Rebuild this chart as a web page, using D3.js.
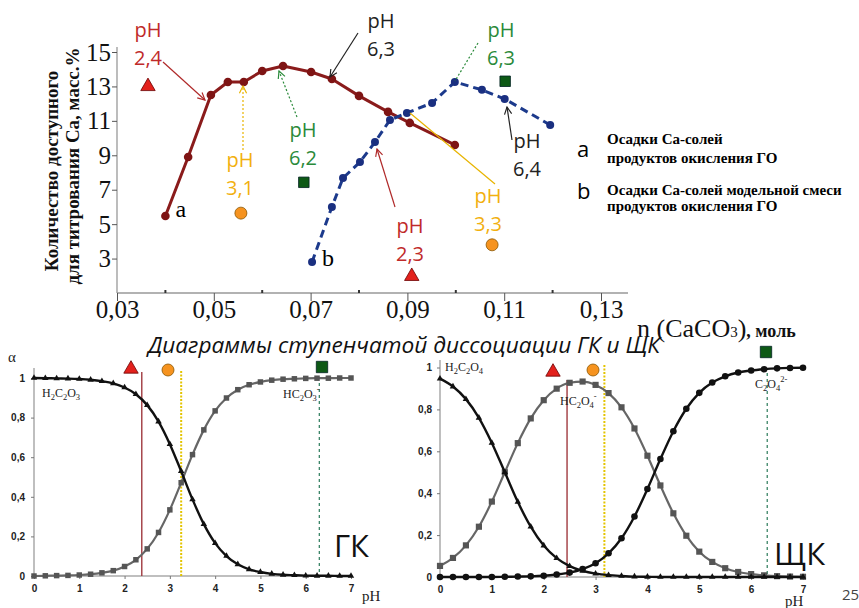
<!DOCTYPE html>
<html>
<head>
<meta charset="UTF-8" />
<script src="https://cdn.jsdelivr.net/npm/d3@7"></script>
<style>
  body { margin: 0; background: #fff; }
  svg { display: block; }
</style>
</head>
<body>
<svg></svg>
<script>
// 1. data
// top chart: Ca amount vs n(CaCO3)
const aX = [0.040, 0.0447, 0.0494, 0.0529, 0.0562, 0.060, 0.0643, 0.0701, 0.0744, 0.080, 0.086, 0.0905, 0.0998]
const aY = [5.47, 8.9, 12.5, 13.26, 13.26, 13.9, 14.19, 13.84, 13.43, 12.45, 11.52, 10.88, 9.6]
const bX = [0.0703, 0.0744, 0.0767, 0.0802, 0.0833, 0.0864, 0.0899, 0.0951, 0.0998, 0.1054, 0.1101, 0.1195]
const bY = [2.8, 6.0, 7.68, 8.61, 9.77, 11.05, 11.46, 12.04, 13.26, 12.8, 12.27, 10.76]
const triX = [0.0364, 0.0909]
const triY = [13.0, 1.97]
const dotX = [0.0556, 0.1075]
const dotY = [5.64, 3.8]
const sqX = [0.0686, 0.1102]
const sqY = [7.43, 13.3]
const topXTicks = [0.03, 0.05, 0.07, 0.09, 0.11, 0.13]
const topXMinor = [0.04, 0.06, 0.08, 0.10, 0.12]
const topYTicks = [3, 5, 7, 9, 11, 13, 15]

// bottom charts: distribution diagrams
const pH = [0, 0.25, 0.5, 0.75, 1, 1.25, 1.5, 1.75, 2, 2.25, 2.5, 2.75, 3, 3.25, 3.5, 3.75,
            4, 4.25, 4.5, 4.75, 5, 5.25, 5.5, 5.75, 6, 6.25, 6.5, 6.75, 7]
const gkH2A = [1.000, 0.999, 0.998, 0.997, 0.995, 0.991, 0.984, 0.973, 0.952, 0.918, 0.863, 0.780, 0.666, 0.529, 0.387, 0.262,
               0.166, 0.101, 0.059, 0.034, 0.020, 0.011, 0.006, 0.004, 0.002, 0.001, 0.001, 0.000, 0.000]
const gkHA = [0.000, 0.001, 0.002, 0.003, 0.005, 0.009, 0.016, 0.027, 0.048, 0.082, 0.137, 0.220, 0.334, 0.471, 0.613, 0.738,
              0.834, 0.899, 0.941, 0.966, 0.980, 0.989, 0.994, 0.996, 0.998, 0.999, 0.999, 1.000, 1.000]
const okH2A = [0.947, 0.909, 0.849, 0.760, 0.640, 0.500, 0.359, 0.240, 0.150, 0.090, 0.052, 0.029, 0.016, 0.009, 0.005, 0.002,
               0.001, 0.000, 0.000, 0.000, 0.000, 0.000, 0.000, 0.000, 0.000, 0.000, 0.000, 0.000, 0.000]
const okHA = [0.053, 0.091, 0.151, 0.240, 0.360, 0.500, 0.639, 0.757, 0.844, 0.899, 0.927, 0.933, 0.917, 0.878, 0.810, 0.709,
              0.579, 0.437, 0.304, 0.197, 0.121, 0.072, 0.042, 0.024, 0.014, 0.008, 0.004, 0.002, 0.001]
const okA = [0.000, 0.000, 0.000, 0.000, 0.000, 0.001, 0.002, 0.003, 0.006, 0.012, 0.021, 0.038, 0.066, 0.113, 0.185, 0.289,
             0.420, 0.563, 0.696, 0.803, 0.879, 0.928, 0.958, 0.976, 0.986, 0.992, 0.996, 0.998, 0.999]
const alphaTicks = [0, 0.2, 0.4, 0.6, 0.8, 1]
const pHTicks = [0, 1, 2, 3, 4, 5, 6, 7]
// pH levels marked on the diagrams: GK [red, yellow, green], SchK [red, yellow, green]
const gkMarks = [2.38, 3.25, 6.3]
const okMarks = [2.45, 3.17, 6.31]

// 2. basics
const width = 859
const height = 608
const RED = "#e3211c", ORANGE = "#f6931f", GREEN = "#0d5915"
const TXT_RED = "#bf2a2a", TXT_OR = "#f2b00f", TXT_GR = "#2a8a3a"
const comma = (d) => String(d).replace(".", ",")

const svg = d3.select("svg").attr("width", width).attr("height", height)
  .attr("viewBox", [0, 0, width, height])

const defs = svg.append("defs")
function arrowHead(id, color) {
  defs.append("marker").attr("id", id)
    .attr("viewBox", "0 0 10 10").attr("refX", 9).attr("refY", 5)
    .attr("markerWidth", 9).attr("markerHeight", 9)
    .attr("markerUnits", "userSpaceOnUse").attr("orient", "auto")
    .append("path").attr("d", "M1,1 L9,5 L1,9")
    .attr("fill", "none").attr("stroke", color).attr("stroke-width", 1.3)
}
arrowHead("ar-red", "#b02a2a")
arrowHead("ar-blk", "#222")
arrowHead("ar-grn", "#2a8a3a")
arrowHead("ar-or", "#e8b400")

// 3. top chart
const x = d3.scaleLinear().domain([0.03, 0.13]).range([117, 601])
const y = d3.scaleLinear().domain([1, 15]).range([293, 52])

const upper = svg.append("g")

upper.append("line").attr("x1", 117).attr("x2", 117).attr("y1", 47).attr("y2", y(1))
  .attr("stroke", "#999").attr("stroke-width", 1.3)
upper.append("line").attr("x1", 117).attr("x2", 628).attr("y1", y(1)).attr("y2", y(1))
  .attr("stroke", "#999").attr("stroke-width", 1.3)

upper.append("g").attr("transform", "translate(117,0)")
  .call(d3.axisLeft(y).tickValues(topYTicks).tickSize(5).tickPadding(1).tickFormat(comma))
  .call((g) => g.select(".domain").remove())
  .call((g) => g.selectAll(".tick line").attr("stroke", "#555"))
  .call((g) => g.selectAll("text").attr("font-family", "Liberation Serif").attr("font-size", 25).attr("fill", "#111"))

upper.append("g").attr("transform", `translate(0,${y(1)})`)
  .call(d3.axisBottom(x).tickValues(topXTicks).tickSize(8).tickPadding(-1).tickFormat(comma))
  .call((g) => g.select(".domain").remove())
  .call((g) => g.selectAll(".tick line").attr("stroke", "#555"))
  .call((g) => g.selectAll("text").attr("font-family", "Liberation Serif").attr("font-size", 25).attr("fill", "#111"))

upper.append("g").selectAll("line").data(topXMinor).join("line")
  .attr("x1", (d) => x(d)).attr("x2", (d) => x(d))
  .attr("y1", y(1) - 3).attr("y2", y(1))
  .attr("stroke", "#333").attr("stroke-width", 2)

// y title
const yTitle = upper.append("g").attr("font-family", "Liberation Serif")
  .attr("font-weight", "bold").attr("font-size", 19).attr("fill", "#111")
  .attr("text-anchor", "middle")
yTitle.append("text").attr("transform", "translate(58,171) rotate(-90)").text("Количество доступного")
yTitle.append("text").attr("transform", "translate(79,166) rotate(-90)").text("для титрования Ca, масс.%")

const line = d3.line().x((d) => x(d[0])).y((d) => y(d[1]))
const aData = aX.map((v, i) => [v, aY[i]])
const bData = bX.map((v, i) => [v, bY[i]])

upper.append("path").datum(aData).attr("d", line)
  .attr("fill", "none").attr("stroke", "#8a1b1b").attr("stroke-width", 3)
  .attr("stroke-linejoin", "round")
upper.append("g").selectAll("circle").data(aData).join("circle")
  .attr("cx", (d) => x(d[0])).attr("cy", (d) => y(d[1])).attr("r", 4.3)
  .attr("fill", "#7e1414")

upper.append("path").datum(bData).attr("d", line)
  .attr("fill", "none").attr("stroke", "#1c3a8c").attr("stroke-width", 3)
  .attr("stroke-dasharray", "8,5")
upper.append("g").selectAll("circle").data(bData).join("circle")
  .attr("cx", (d) => x(d[0])).attr("cy", (d) => y(d[1])).attr("r", 4)
  .attr("fill", "#1a2f80")

// series letters
upper.append("text").attr("x", x(aX[0]) + 10).attr("y", y(aY[0]) + 1)
  .attr("font-family", "Liberation Serif").attr("font-size", 24).text("a")
upper.append("text").attr("x", x(bX[0]) + 10).attr("y", y(bY[0]) + 4)
  .attr("font-family", "Liberation Serif").attr("font-size", 24).text("b")

// pH markers
const tri = d3.symbol(d3.symbolTriangle, 90)
const sq = d3.symbol(d3.symbolSquare, 110)
upper.append("g").selectAll("path").data(triX).join("path")
  .attr("d", tri).attr("transform", (d, i) => `translate(${x(d)},${y(triY[i])})`)
  .attr("fill", RED).attr("stroke", "#6a0000").attr("stroke-width", 0.8)
upper.append("g").selectAll("circle").data(dotX).join("circle")
  .attr("cx", (d) => x(d)).attr("cy", (d, i) => y(dotY[i])).attr("r", 6)
  .attr("fill", ORANGE).attr("stroke", "#8a5500").attr("stroke-width", 0.8)
upper.append("g").selectAll("path").data(sqX).join("path")
  .attr("d", sq).attr("transform", (d, i) => `translate(${x(d)},${y(sqY[i])})`)
  .attr("fill", GREEN).attr("stroke", "#022").attr("stroke-width", 0.8)

// annotations (pixel layout)
const notes = [
  { t: "2,4", c: TXT_RED, x: 148, y: 37, a: [163, 62, 205, 100], s: "#b02a2a", m: "ar-red" },
  { t: "3,1", c: TXT_OR, x: 240, y: 167, a: [243, 150, 243, 86], s: "#e8b400", m: "ar-or", dash: "2,2" },
  { t: "6,2", c: TXT_GR, x: 303, y: 137, a: [297, 117, 279, 71], s: "#2a8a3a", m: "ar-grn", dash: "2,2" },
  { t: "6,3", c: "#222", x: 381, y: 28, a: [358, 33, 330, 77], s: "#222", m: "ar-blk" },
  { t: "6,3", c: TXT_GR, x: 501, y: 37, a: [478, 43, 455, 81], s: "#2a8a3a", dash: "2,2" },
  { t: "6,4", c: "#222", x: 527, y: 148, a: [512, 140, 507, 107], s: "#222", m: "ar-blk" },
  { t: "3,3", c: TXT_OR, x: 488, y: 203, a: [495, 184, 410, 113], s: "#e8b400" },
  { t: "2,3", c: TXT_RED, x: 410, y: 233, a: [395, 207, 377, 149], s: "#b02a2a", m: "ar-red" },
]
const ann = upper.append("g")
notes.forEach((n) => {
  ann.append("line").attr("x1", n.a[0]).attr("y1", n.a[1]).attr("x2", n.a[2]).attr("y2", n.a[3])
    .attr("stroke", n.s).attr("stroke-width", 1.2)
    .attr("stroke-dasharray", n.dash || null)
    .attr("marker-end", n.m ? `url(#${n.m})` : null)
  const t = ann.append("text").attr("font-family", "Open Sans").attr("font-size", 20)
    .attr("fill", n.c).attr("text-anchor", "middle")
  t.append("tspan").attr("x", n.x).attr("y", n.y).text("pH")
  t.append("tspan").attr("x", n.x).attr("y", n.y + 28).text(n.t)
})

// legend
const leg = svg.append("g")
leg.append("text").attr("x", 577).attr("y", 157).attr("font-family", "Open Sans").attr("font-size", 22).text("a")
leg.append("text").attr("x", 577).attr("y", 199).attr("font-family", "Open Sans").attr("font-size", 22).text("b")
const legText = [["Осадки Ca-солей", 144], ["продуктов окисления ГО", 163],
                 ["Осадки Ca-солей модельной смеси", 195], ["продуктов окисления ГО", 211]]
leg.selectAll("text.l").data(legText).join("text").attr("class", "l")
  .attr("x", 607).attr("y", (d) => d[1])
  .attr("font-family", "Liberation Serif").attr("font-weight", "bold").attr("font-size", 15)
  .text((d) => d[0])

// x title
const nt = svg.append("text").attr("x", 637).attr("y", 337)
  .attr("font-family", "Liberation Serif").attr("font-size", 26).attr("fill", "#111")
nt.append("tspan").text("n (CaCO")
nt.append("tspan").attr("font-size", 15).text("3")
nt.append("tspan").text(")")
nt.append("tspan").attr("font-size", 18).attr("font-weight", "bold").text(", моль")

// heading
svg.append("text").attr("x", 148).attr("y", 353)
  .attr("font-family", "Open Sans").attr("font-style", "italic").attr("font-size", 21)
  .attr("fill", "#111").attr("textLength", 512).attr("lengthAdjust", "spacingAndGlyphs")
  .text("Диаграммы ступенчатой диссоциации ГК и ЩК")

// 4. bottom charts
function chem(g, x0, y0, parts) {
  const t = g.append("text").attr("x", x0).attr("y", y0)
    .attr("font-family", "Liberation Serif").attr("font-size", 12).attr("fill", "#222")
  let shift = 0
  parts.forEach(([s, k]) => {
    const want = k === "sub" ? 2.5 : k === "sup" ? -6 : 0
    t.append("tspan").attr("dy", want - shift).attr("font-size", k ? 8.5 : 12).text(s)
    shift = want
  })
}

function alphaChart(o) {
  const g = svg.append("g")
  const xs = d3.scaleLinear().domain([0, 7]).range(o.xr)
  const ys = d3.scaleLinear().domain([0, 1]).range(o.yr)

  g.append("line").attr("x1", xs(0)).attr("x2", xs(0)).attr("y1", o.axTop).attr("y2", ys(0))
    .attr("stroke", "#aaa").attr("stroke-width", 1.5)
  g.append("line").attr("x1", xs(0)).attr("x2", xs(7)).attr("y1", ys(0)).attr("y2", ys(0))
    .attr("stroke", "#aaa").attr("stroke-width", 1.5)

  g.append("g").attr("transform", `translate(${xs(0)},0)`)
    .call(d3.axisLeft(ys).tickValues(alphaTicks).tickSize(3).tickPadding(o.yPad)
      .tickFormat((d) => (d === 0 || d === 1 ? String(d) : comma(d.toFixed(1)))))
    .call((g) => g.select(".domain").remove())
    .call((g) => g.selectAll(".tick line").attr("stroke", "#777"))
    .call((g) => g.selectAll("text").attr("font-family", "Liberation Sans").attr("font-weight", "bold")
      .attr("font-size", 10).attr("fill", "#222"))

  g.append("g").attr("transform", `translate(0,${ys(0)})`)
    .call(d3.axisBottom(xs).tickValues(pHTicks).tickSize(3).tickPadding(6).tickFormat(d3.format("d")))
    .call((g) => g.select(".domain").remove())
    .call((g) => g.selectAll(".tick line").attr("stroke", "#777"))
    .call((g) => g.selectAll("text").attr("font-family", "Liberation Sans").attr("font-weight", "bold")
      .attr("font-size", 10).attr("fill", "#222"))

  g.append("text").attr("x", o.pHx).attr("y", o.pHy).attr("font-family", "Liberation Serif")
    .attr("font-size", 15).attr("fill", "#222").text("pH")

  // pH levels
  const [r, yl, gr] = o.marks
  g.append("line").attr("x1", xs(r)).attr("x2", xs(r)).attr("y1", o.lineTop[0]).attr("y2", ys(0))
    .attr("stroke", "#a03a3f").attr("stroke-width", 1.4)
  g.append("line").attr("x1", xs(yl)).attr("x2", xs(yl)).attr("y1", o.lineTop[1]).attr("y2", ys(0))
    .attr("stroke", "#e3c400").attr("stroke-width", 2).attr("stroke-dasharray", "2,1.5")
  g.append("line").attr("x1", xs(gr)).attr("x2", xs(gr)).attr("y1", o.lineTop[2]).attr("y2", ys(0))
    .attr("stroke", "#2b7a5a").attr("stroke-width", 1.2).attr("stroke-dasharray", "3,3")

  const ln = (vals) => d3.line().curve(d3.curveMonotoneX).x((d, i) => xs(pH[i])).y((d) => ys(d))(vals)

  o.series.forEach((s) => {
    g.append("path").attr("d", ln(s.v)).attr("fill", "none")
      .attr("stroke", s.kind === "sq" ? "#666" : "#111").attr("stroke-width", s.kind === "sq" ? 2.2 : 2.4)
    const sel = g.append("g").selectAll("path").data(s.v).join("path")
      .attr("transform", (d, i) => `translate(${xs(pH[i])},${ys(d)})`)
    if (s.kind === "sq") sel.attr("d", d3.symbol(d3.symbolSquare, o.sqSize)).attr("fill", "#555")
    if (s.kind === "tri") sel.attr("d", d3.symbol(d3.symbolTriangle, 18)).attr("fill", "#111")
    if (s.kind === "dot") sel.attr("d", d3.symbol(d3.symbolCircle, 34)).attr("fill", "#111")
  })

  // markers above
  g.append("path").attr("d", tri).attr("transform", `translate(${o.mk[0][0]},${o.mk[0][1]})`)
    .attr("fill", RED).attr("stroke", "#6a0000").attr("stroke-width", 0.8)
  g.append("circle").attr("cx", o.mk[1][0]).attr("cy", o.mk[1][1]).attr("r", 6)
    .attr("fill", ORANGE).attr("stroke", "#8a5500").attr("stroke-width", 0.8)
  g.append("path").attr("d", d3.symbol(d3.symbolSquare, 130))
    .attr("transform", `translate(${o.mk[2][0]},${o.mk[2][1]})`)
    .attr("fill", GREEN).attr("stroke", "#022").attr("stroke-width", 0.8)

  g.append("text").attr("x", o.big[0]).attr("y", o.big[1]).attr("font-family", "Open Sans")
    .attr("font-size", 31).attr("fill", "#111").text(o.name)
  o.labels.forEach((l) => chem(g, l[0], l[1], l[2]))
}

alphaChart({
  xr: [34, 351], yr: [576, 378], axTop: 368, yPad: 6,
  pHx: 362, pHy: 601, marks: gkMarks, lineTop: [372, 371, 383],
  sqSize: 30,
  series: [{ v: gkHA, kind: "sq" }, { v: gkH2A, kind: "tri" }],
  mk: [[131, 369], [168, 370], [322, 367]],
  big: [334, 557], name: "ГК",
  labels: [
    [42, 397, [["H"], ["2", "sub"], ["C"], ["2", "sub"], ["O"], ["3", "sub"]]],
    [283, 398, [["HC"], ["2", "sub"], ["O"], ["3", "sub"], ["-", "sup"]]],
  ],
})

// alpha label
svg.append("text").attr("x", 8).attr("y", 362).attr("font-family", "Liberation Serif")
  .attr("font-size", 15).attr("fill", "#222").text("α")

alphaChart({
  xr: [440, 803], yr: [577, 367.5], axTop: 360, yPad: 5,
  pHx: 785, pHy: 606, marks: okMarks, lineTop: [380, 365, 373],
  sqSize: 38,
  series: [{ v: okHA, kind: "sq" }, { v: okH2A, kind: "tri" }, { v: okA, kind: "dot" }],
  mk: [[553, 372], [593, 370], [766, 352]],
  big: [774, 565], name: "ЩК",
  labels: [
    [445, 371, [["H"], ["2", "sub"], ["C"], ["2", "sub"], ["O"], ["4", "sub"]]],
    [560, 405, [["HC"], ["2", "sub"], ["O"], ["4", "sub"], ["-", "sup"]]],
    [755, 388, [["C"], ["2", "sub"], ["O"], ["4", "sub"], ["2-", "sup"]]],
  ],
})

svg.append("text").attr("x", 842).attr("y", 600).attr("font-family", "Open Sans")
  .attr("font-size", 15).attr("fill", "#444").text("25")
</script>
</body>
</html>
